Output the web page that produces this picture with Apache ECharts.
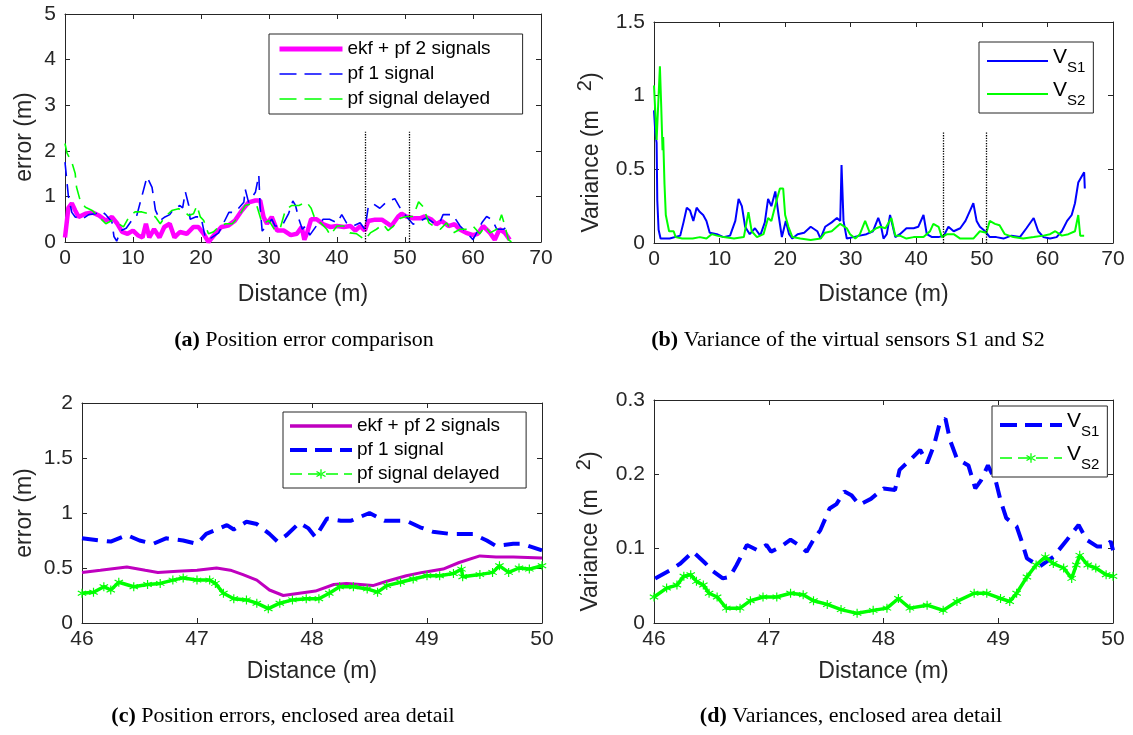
<!DOCTYPE html>
<html>
<head>
<meta charset="utf-8">
<script src="https://cdn.jsdelivr.net/npm/echarts@6.0.0/dist/echarts.min.js"></script>
<style>
html, body { margin: 0; background: #fff; }
#main { width: 1133px; height: 735px; }
</style>
</head>
<body>
<div id="main"></div>
<script>
// (a) position error over the whole run
var aEkf = [[0,0.1],[0.5,0.75],[1.0,0.85],[1.5,0.69],[2.0,0.55],[3,0.62],[4,0.65],[5,0.58],[6,0.47],[6.9,0.55],[7.7,0.4],[8.4,0.22],[9.2,0.18],[10,0.25],[10.7,0.15],[11.4,0.1],[11.9,0.4],[12.4,0.1],[13.1,0.28],[13.9,0.1],[14.6,0.33],[15.4,0.4],[16.1,0.1],[16.9,0.22],[17.9,0.18],[18.9,0.33],[19.6,0.33],[20.4,0.18],[21.1,0.0],[22.1,0.18],[23,0.33],[24,0.36],[25,0.47],[26,0.69],[27,0.87],[28,0.91],[28.7,0.91],[29.2,0.55],[29.7,0.4],[30.4,0.55],[31.2,0.25],[32.2,0.25],[33.2,0.15],[34.1,0.18],[34.8,0.33],[35.2,0.05],[35.6,0.2],[36.2,0.5],[37,0.5],[38,0.39],[39,0.33],[40,0.35],[41,0.33],[42,0.35],[42.7,0.25],[43.4,0.35],[44.1,0.25],[44.6,0.46],[45.6,0.49],[46.6,0.49],[47.3,0.42],[48,0.35],[49,0.56],[49.5,0.62],[50.2,0.56],[51.2,0.52],[52.2,0.52],[52.9,0.56],[53.9,0.49],[54.6,0.39],[55.4,0.46],[56.4,0.35],[57.3,0.39],[58,0.28],[59,0.2],[60,0.15],[60.7,0.18],[61.5,0.35],[62.5,0.2],[63.2,0.05],[63.9,0.28],[64.7,0.2],[65.4,0.05]];
var aPf1 = [[0,1.75],[0.3,1.3],[0.5,1.0],[1,0.65],[1.5,0.55],[2.5,0.5],[3.5,0.6],[4.5,0.62],[5.3,0.68],[6,0.6],[6.9,0.44],[7.2,0.12],[7.6,0.02],[8.2,0.25],[9,0.3],[9.85,0.48],[10.5,0.55],[11.3,1.0],[12.06,1.43],[12.8,1.2],[13.3,0.7],[14.0,0.47],[14.7,0.55],[15.4,0.6],[16,0.73],[16.9,0.8],[17.3,0.75],[17.7,1.1],[18.2,0.8],[18.4,0.5],[19.2,0.55],[20,0.55],[20.6,0.12],[21.1,0.05],[22.6,0.2],[24.1,0.65],[25,0.65],[26.3,0.87],[26.5,1.16],[27,0.87],[28,1.09],[28.5,1.47],[28.7,0.75],[29,0.24],[30.4,0.5],[30.9,0.35],[31.9,0.35],[32.9,0.63],[33.5,0.9],[33.9,0.8],[34.4,0.5],[34.9,0.28],[35.4,0.35],[36,0.15],[37,0.36],[38,0.5],[38.9,0.5],[40,0.42],[40.7,0.6],[41.4,0.42],[42.4,0.35],[43.4,0.42],[44.1,0.28],[44.6,0.77],[45.3,0.84],[46.3,0.74],[47.3,0.88],[48.5,0.95],[49.3,0.74],[50.2,0.56],[51.2,0.39],[52.2,0.46],[53.2,0.53],[54.2,0.42],[55.1,0.42],[55.6,0.6],[57,0.6],[58.1,0.35],[59.1,0.2],[60,0.05],[61.3,0.42],[62,0.56],[62.8,0.49],[63.5,0.28],[64.5,0.28],[65.4,0.37]];
var aDelayed = [[0,2.16],[0.3,1.95],[1.0,1.75],[1.5,1.5],[1.7,1.2],[2.25,0.9],[3,0.76],[4,0.69],[5,0.55],[6,0.4],[6.9,0.47],[7.9,0.4],[8.6,0.33],[9.4,0.55],[10.3,0.66],[11.3,0.66],[12.3,0.62],[13.3,0.55],[14,0.4],[14.7,0.55],[15.7,0.69],[16.7,0.73],[17.4,0.69],[18.2,0.58],[18.9,0.62],[19.4,0.8],[19.9,0.55],[20.4,0.47],[21.1,0.18],[21.8,0.22],[22.6,0.33],[23.6,0.4],[24.6,0.4],[25.5,0.55],[26.5,0.8],[27.5,0.84],[28.2,0.8],[29,0.4],[30,0.47],[30.9,0.25],[31.7,0.33],[32.4,0.69],[33.3,0.8],[34.4,0.8],[35.5,0.88],[36.2,0.74],[36.8,0.49],[37.6,0.42],[38.5,0.28],[39,0.15],[40,0.35],[41,0.35],[41.9,0.2],[42.9,0.18],[44.1,0.05],[44.9,0.2],[45.8,0.28],[46.8,0.39],[47.5,0.25],[48.3,0.35],[49.3,0.52],[50.2,0.56],[51.2,0.56],[52,0.88],[52.7,0.77],[53.5,0.42],[54.2,0.35],[55.2,0.28],[56.1,0.42],[57.1,0.2],[58.1,0.28],[59.1,0.28],[60,0.35],[61,0.18],[61.8,0.35],[62.5,0.2],[63.5,0.28],[64.2,0.6],[64.7,0.35],[65.2,0.05],[65.7,0.0]];

// (b) variance of the two virtual sensors
var bS1 = [[0,0.9],[0.2,0.75],[0.4,0.68],[0.5,0.29],[0.7,0.09],[1,0.03],[2.4,0.03],[4,0.05],[4.5,0.14],[5,0.24],[5.5,0.22],[6,0.15],[6.5,0.24],[7,0.21],[7.5,0.19],[8,0.15],[8.5,0.07],[9.6,0.06],[10.6,0.04],[11.6,0.05],[12.4,0.15],[12.9,0.3],[13.4,0.25],[13.9,0.11],[14.6,0.06],[15.4,0.1],[16.2,0.05],[16.9,0.14],[17.4,0.3],[17.9,0.25],[18.5,0.35],[19,0.19],[19.5,0.04],[20.1,0.15],[20.6,0.06],[21.1,0.03],[21.9,0.06],[22.9,0.07],[23.9,0.11],[24.9,0.08],[25.4,0.03],[26.1,0.11],[27.1,0.14],[27.9,0.17],[28.4,0.15],[28.6,0.53],[28.9,0.15],[29.4,0.03],[30.4,0.04],[31.4,0.05],[32.4,0.06],[33.4,0.08],[34.2,0.17],[34.6,0.12],[35,0.03],[35.5,0.06],[36,0.19],[36.8,0.04],[37.5,0.06],[38.5,0.1],[39.6,0.1],[40.3,0.11],[41.1,0.19],[41.6,0.06],[42.4,0.04],[43.4,0.04],[44.2,0.05],[44.9,0.11],[45.7,0.08],[46.7,0.1],[47.5,0.15],[48.2,0.22],[48.7,0.27],[49.2,0.15],[49.7,0.11],[50.5,0.08],[51.2,0.04],[52.2,0.04],[53.3,0.03],[54.5,0.05],[55.8,0.04],[56.8,0.1],[57.9,0.17],[58.6,0.08],[59.4,0.04],[60.4,0.03],[61.4,0.04],[62.2,0.08],[63,0.15],[63.7,0.19],[64.2,0.27],[64.7,0.41],[65.2,0.45],[65.6,0.48],[65.7,0.37]];
var bS2 = [[0,1.07],[0.4,0.7],[0.9,1.2],[1.1,0.93],[1.3,0.63],[1.4,0.72],[1.6,0.4],[1.8,0.19],[2.3,0.08],[3,0.08],[3.3,0.04],[4.3,0.03],[5.9,0.03],[7,0.04],[8,0.03],[8.8,0.06],[9.6,0.05],[10.6,0.04],[12.2,0.03],[13.7,0.04],[14.4,0.21],[14.9,0.08],[15.7,0.04],[16.7,0.06],[17.4,0.17],[17.9,0.15],[18.7,0.29],[19.2,0.37],[19.7,0.37],[20,0.19],[20.5,0.11],[21.1,0.04],[22.3,0.03],[23.9,0.02],[25.4,0.03],[26.1,0.07],[27.1,0.08],[28.4,0.13],[29.4,0.1],[29.9,0.06],[30.7,0.03],[31.4,0.06],[32.2,0.15],[32.9,0.07],[33.9,0.1],[34.5,0.11],[35.3,0.1],[36.2,0.17],[36.8,0.05],[37.5,0.05],[38.5,0.03],[39.6,0.04],[41.1,0.04],[42.1,0.08],[42.6,0.13],[43.4,0.11],[43.9,0.04],[44.7,0.06],[45.7,0.06],[46.7,0.03],[47.7,0.03],[48.7,0.03],[49.7,0.08],[50.7,0.07],[51.2,0.15],[52,0.13],[52.7,0.12],[53.5,0.06],[54.8,0.04],[56.3,0.03],[57.9,0.04],[59.4,0.05],[60.4,0.06],[61.2,0.08],[62.2,0.05],[63.2,0.06],[64.2,0.08],[64.7,0.19],[65,0.05],[65.6,0.05]];

// (c) errors in the enclosed area
var cEkf = [[46,0.46],[46.16,0.48],[46.39,0.51],[46.55,0.48],[46.66,0.46],[46.83,0.47],[47.0,0.48],[47.17,0.5],[47.29,0.48],[47.4,0.44],[47.52,0.39],[47.63,0.3],[47.75,0.25],[47.89,0.27],[48.03,0.29],[48.19,0.35],[48.3,0.36],[48.42,0.35],[48.53,0.34],[48.65,0.38],[48.82,0.43],[48.96,0.46],[49.14,0.49],[49.28,0.55],[49.46,0.61],[49.6,0.6],[49.75,0.6],[50,0.59]];
var cPf1 = [[46,0.77],[46.16,0.75],[46.25,0.74],[46.39,0.8],[46.5,0.75],[46.62,0.72],[46.73,0.77],[46.88,0.75],[47.0,0.72],[47.08,0.81],[47.26,0.89],[47.32,0.85],[47.43,0.92],[47.52,0.9],[47.63,0.81],[47.7,0.74],[47.78,0.8],[47.89,0.91],[47.97,0.86],[48.03,0.78],[48.13,0.95],[48.25,0.93],[48.34,0.93],[48.5,1.0],[48.63,0.93],[48.72,0.93],[48.82,0.93],[48.94,0.87],[49.05,0.83],[49.2,0.81],[49.4,0.81],[49.52,0.75],[49.6,0.7],[49.75,0.72],[49.83,0.72],[50,0.66]];
var cDelayed = [[46,0.27],[46.1,0.28],[46.19,0.33],[46.25,0.3],[46.32,0.37],[46.45,0.33],[46.57,0.35],[46.68,0.36],[46.79,0.39],[46.88,0.41],[47.0,0.39],[47.11,0.39],[47.16,0.36],[47.23,0.27],[47.32,0.22],[47.43,0.21],[47.52,0.18],[47.62,0.13],[47.72,0.18],[47.83,0.21],[47.95,0.22],[48.06,0.22],[48.15,0.27],[48.24,0.33],[48.36,0.33],[48.48,0.31],[48.57,0.28],[48.65,0.34],[48.77,0.37],[48.88,0.4],[49,0.43],[49.11,0.43],[49.23,0.45],[49.3,0.49],[49.31,0.42],[49.46,0.44],[49.57,0.46],[49.63,0.52],[49.71,0.46],[49.8,0.5],[49.89,0.49],[50,0.52]];

// (d) variances in the enclosed area
var dS1 = [[46.01,0.06],[46.14,0.071],[46.23,0.08],[46.34,0.096],[46.45,0.08],[46.5,0.071],[46.6,0.06],[46.66,0.062],[46.72,0.078],[46.81,0.105],[46.9,0.098],[46.98,0.105],[47.02,0.096],[47.1,0.102],[47.19,0.112],[47.26,0.105],[47.33,0.096],[47.39,0.112],[47.45,0.125],[47.53,0.154],[47.59,0.16],[47.66,0.177],[47.72,0.172],[47.79,0.159],[47.89,0.167],[48.0,0.181],[48.1,0.179],[48.14,0.206],[48.23,0.219],[48.32,0.233],[48.38,0.215],[48.44,0.239],[48.49,0.269],[48.54,0.275],[48.58,0.246],[48.64,0.221],[48.74,0.212],[48.8,0.181],[48.85,0.192],[48.91,0.212],[48.98,0.19],[49.02,0.165],[49.07,0.141],[49.16,0.13],[49.2,0.112],[49.25,0.087],[49.36,0.076],[49.48,0.089],[49.6,0.112],[49.7,0.132],[49.77,0.112],[49.86,0.103],[49.94,0.103],[49.98,0.11],[50,0.098]];
var dS2 = [[46,0.035],[46.11,0.047],[46.2,0.051],[46.26,0.063],[46.32,0.065],[46.37,0.056],[46.43,0.051],[46.48,0.04],[46.55,0.035],[46.63,0.02],[46.75,0.02],[46.84,0.03],[46.95,0.035],[47.07,0.035],[47.19,0.04],[47.3,0.038],[47.39,0.03],[47.51,0.025],[47.63,0.018],[47.77,0.013],[47.91,0.017],[48.03,0.02],[48.13,0.033],[48.23,0.02],[48.38,0.024],[48.52,0.017],[48.64,0.029],[48.79,0.04],[48.9,0.04],[49.02,0.033],[49.1,0.029],[49.16,0.04],[49.25,0.062],[49.33,0.078],[49.41,0.089],[49.48,0.08],[49.57,0.074],[49.64,0.06],[49.68,0.078],[49.71,0.091],[49.78,0.078],[49.85,0.074],[49.94,0.065],[50,0.063]];

// dotted lines marking the enclosed area in (a) and (b)
var enclosedX = [44.1, 50.6];
var enclosedTopA = 2.42;
var enclosedTopB = 0.75;

var legendNames = {
	a_ekf: 'ekf + pf 2 signals', a_pf1: 'pf 1 signal', a_del: 'pf signal delayed',
	b_s1: '{v|V}{s|S1}', b_s2: '{v|V}{s|S2}',
	c_ekf: 'ekf + pf 2 signals', c_pf1: 'pf 1 signal', c_del: 'pf signal delayed',
	d_s1: '{v|V}{s|S1}', d_s2: '{v|V}{s|S2}'
};

var ink = '#262626';
var sans = 'Liberation Sans';
// MATLAB-like asterisk marker
var star = 'path://M-0.6,-5L0.6,-5L0.6,5L-0.6,5Z M4.03,3.02L4.63,1.98L-4.03,-3.02L-4.63,-1.98Z M4.63,-1.98L4.03,-3.02L-4.63,1.98L-4.03,3.02Z';

function axisPair(dir, grid, min, max, interval, name, nameGap, nameStyle) {
	var base = {
		type: 'value', gridIndex: grid, min: min, max: max, interval: interval,
		axisLine: { onZero: false, lineStyle: { color: ink, width: 1 } },
		axisTick: { inside: true, length: 5, lineStyle: { color: ink } },
		splitLine: { show: false }
	};
	var main = Object.assign({}, base, {
		position: dir == 'x' ? 'bottom' : 'left',
		name: name, nameLocation: 'middle', nameGap: nameGap,
		nameTextStyle: Object.assign({ fontSize: 23, color: ink, fontFamily: sans }, nameStyle || {}),
		axisLabel: { fontSize: 21, color: ink, fontFamily: sans, margin: dir == 'x' ? 6 : 9 }
	});
	var other = Object.assign({}, base, {
		position: dir == 'x' ? 'top' : 'right',
		axisLabel: { show: false }
	});
	return [main, other];
}

// legend entries: the sample line is given explicitly, markers hidden unless the line has them
function item(n, width, dash, withMarker) {
	var o = { name: n, lineStyle: { width: width, type: dash || 'solid' } };
	if (!withMarker) o.itemStyle = { opacity: 0 };
	return o;
}

function legendBox(items, left, top, padding, itemWidth, itemGap, lineHeight) {
	return {
		data: items, orient: 'vertical', left: left, top: top, padding: padding,
		itemWidth: itemWidth, itemHeight: 12, itemGap: itemGap,
		borderColor: ink, borderWidth: 1, backgroundColor: '#fff', borderRadius: 0,
		selectedMode: false,
		formatter: function (n) { return legendNames[n]; },
		textStyle: {
			fontSize: 19, color: '#000', fontFamily: sans, lineHeight: lineHeight,
			rich: {
				v: { fontSize: 21, fontFamily: sans, color: '#000', verticalAlign: 'top' },
				s: { fontSize: 15, fontFamily: sans, color: '#000', verticalAlign: 'top', padding: [13, 0, 0, 0] }
			}
		}
	};
}

function enclosure(top) {
	return {
		silent: true, symbol: 'none', label: { show: false },
		lineStyle: { type: 'dotted', color: '#000', width: 1.3 },
		data: enclosedX.map(function (x) { return [{ coord: [x, 0] }, { coord: [x, top] }]; })
	};
}

function caption(x, y, tag, text) {
	return {
		type: 'text', x: x, y: y,
		style: {
			text: '{b|' + tag + '} ' + text, align: 'center', verticalAlign: 'middle',
			font: '22px "Liberation Serif"', fill: '#000',
			rich: { b: { fontWeight: 'bold', fontSize: 22, fontFamily: 'Liberation Serif' } }
		}
	};
}

var varName = '{n|Variance (m   }{p|2}{n|)}';
var varRich = {
	n: { fontSize: 23, color: ink, fontFamily: sans },
	p: { fontSize: 20, color: ink, fontFamily: sans, verticalAlign: 'top', padding: [0, 0, 14, 0] }
};

var xa = axisPair('x', 0, 0, 70, 10, 'Distance (m)', 41);
var ya = axisPair('y', 0, 0, 5, 1, 'error (m)', 29, { padding: [0, 18, 0, 0] });
var xb = axisPair('x', 1, 0, 70, 10, 'Distance (m)', 40);
var yb = axisPair('y', 1, 0, 1.5, 0.5, varName, 45, { rich: varRich, padding: [0, 40, 0, 0] });
var xc = axisPair('x', 2, 46, 50, 1, 'Distance (m)', 37);
var yc = axisPair('y', 2, 0, 2, 0.5, 'error (m)', 46);
var xd = axisPair('x', 3, 46, 50, 1, 'Distance (m)', 37);
var yd = axisPair('y', 3, 0, 0.3, 0.1, varName, 46, { rich: varRich, padding: [0, 40, 0, 0] });

var myChart = echarts.init(document.getElementById('main'));
var option = {
	animation: false,
	backgroundColor: '#fff',
	grid: [
		{ left: 65, top: 14, width: 476, height: 228, outerBoundsMode: 'none' },
		{ left: 654, top: 22, width: 459, height: 221, outerBoundsMode: 'none' },
		{ left: 82, top: 403, width: 460, height: 220, outerBoundsMode: 'none' },
		{ left: 654, top: 400, width: 459, height: 223, outerBoundsMode: 'none' }
	],
	xAxis: xa.concat(xb, xc, xd),
	yAxis: ya.concat(yb, yc, yd),
	legend: [
		legendBox([item('a_ekf', 5), item('a_pf1', 1.6, [17, 8]), item('a_del', 1.6, [17, 8])], 269, 34, [5, 32, 5, 8], 63, 5, 20),
		legendBox([item('b_s1', 2), item('b_s2', 2)], 979, 42, [5, 8, 5, 7], 61, 5, 28),
		legendBox([item('c_ekf', 3.5), item('c_pf1', 4, [17, 8]), item('c_del', 1.5, [12, 6], true)], 283, 412, [4, 26, 4, 5], 62, 4, 20),
		legendBox([item('d_s1', 4, [17, 8]), item('d_s2', 1.5, [12, 6], true)], 992, 406, [5, 8, 5, 6], 62, 5, 28)
	],
	graphic: [
		caption(304, 340, '(a)', 'Position error comparison'),
		caption(848, 340, '(b)', 'Variance of the virtual sensors S1 and S2'),
		caption(283, 716, '(c)', 'Position errors, enclosed area detail'),
		caption(851, 716, '(d)', 'Variances, enclosed area detail')
	],
	series: [
		{ name: 'a_ekf', type: 'line', xAxisIndex: 0, yAxisIndex: 0, data: aEkf, symbol: 'none', color: '#ff00ff', lineStyle: { color: '#ff00ff', width: 4.5 } },
		{ name: 'a_pf1', type: 'line', xAxisIndex: 0, yAxisIndex: 0, data: aPf1, symbol: 'none', color: '#0000ff', lineStyle: { color: '#0000ff', width: 1.6, type: [14, 8] }, markLine: enclosure(enclosedTopA) },
		{ name: 'a_del', type: 'line', xAxisIndex: 0, yAxisIndex: 0, data: aDelayed, symbol: 'none', color: '#00ff00', lineStyle: { color: '#00ff00', width: 1.6, type: [14, 8] } },

		{ name: 'b_s1', type: 'line', xAxisIndex: 2, yAxisIndex: 2, data: bS1, symbol: 'none', color: '#0000ff', lineStyle: { color: '#0000ff', width: 2 }, markLine: enclosure(enclosedTopB) },
		{ name: 'b_s2', type: 'line', xAxisIndex: 2, yAxisIndex: 2, data: bS2, symbol: 'none', color: '#00ff00', lineStyle: { color: '#00ff00', width: 2 } },

		{ name: 'c_ekf', type: 'line', xAxisIndex: 4, yAxisIndex: 4, data: cEkf, symbol: 'none', color: '#bf00bf', lineStyle: { color: '#bf00bf', width: 3 } },
		{ name: 'c_pf1', type: 'line', xAxisIndex: 4, yAxisIndex: 4, data: cPf1, symbol: 'none', color: '#0000ff', lineStyle: { color: '#0000ff', width: 4, type: [16, 9] } },
		{ name: 'c_del', type: 'line', xAxisIndex: 4, yAxisIndex: 4, data: cDelayed, symbol: star, symbolSize: 9, showAllSymbol: true, color: '#00ff00', itemStyle: { color: '#00ff00' }, lineStyle: { color: '#00ff00', width: 3.5 } },

		{ name: 'd_s1', type: 'line', xAxisIndex: 6, yAxisIndex: 6, data: dS1, symbol: 'none', color: '#0000ff', lineStyle: { color: '#0000ff', width: 4, type: [16, 9] } },
		{ name: 'd_s2', type: 'line', xAxisIndex: 6, yAxisIndex: 6, data: dS2, symbol: star, symbolSize: 9, showAllSymbol: true, color: '#00ff00', itemStyle: { color: '#00ff00' }, lineStyle: { color: '#00ff00', width: 3.5 } }
	]
};
myChart.setOption(option);
</script>
</body>
</html>
